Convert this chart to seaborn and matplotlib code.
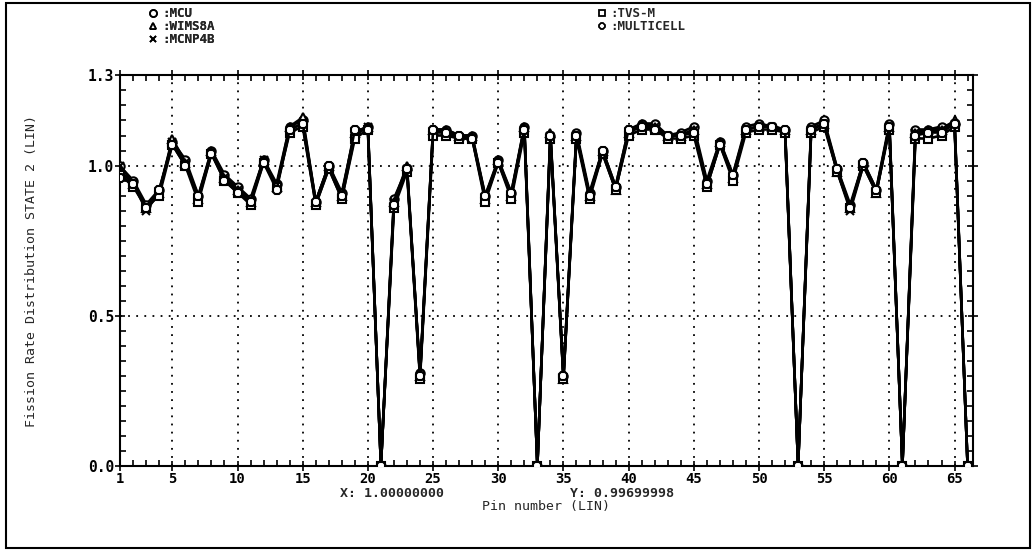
import numpy as np
import pandas as pd
import matplotlib
matplotlib.use('Agg')
import matplotlib.pyplot as plt
from matplotlib.lines import Line2D
from matplotlib.patches import Rectangle
from matplotlib.ticker import MultipleLocator, FixedLocator
import seaborn as sns

pins = list(range(1, 67))

# values, rows of 10 pins
mcu = [0.997, 0.95, 0.87, 0.92, 1.08, 1.02, 0.90, 1.05, 0.97, 0.93,
       0.89, 1.02, 0.94, 1.13, 1.15, 0.88, 1.00, 0.91, 1.11, 1.13,
       0.00, 0.89, 0.99, 0.31, 1.12, 1.12, 1.10, 1.10, 0.90, 1.02,
       0.91, 1.13, 0.00, 1.10, 0.30, 1.11, 0.91, 1.05, 0.93, 1.12,
       1.14, 1.14, 1.10, 1.11, 1.13, 0.95, 1.08, 0.97, 1.13, 1.14,
       1.13, 1.12, 0.00, 1.13, 1.15, 0.99, 0.87, 1.01, 0.92, 1.14,
       0.00, 1.12, 1.12, 1.13, 1.14, 0.00]
tvsm = [0.97, 0.93, 0.86, 0.90, 1.07, 1.00, 0.88, 1.04, 0.95, 0.91,
        0.87, 1.01, 0.93, 1.11, 1.13, 0.87, 0.99, 0.89, 1.09, 1.12,
        0.00, 0.86, 0.98, 0.29, 1.10, 1.10, 1.09, 1.09, 0.88, 1.01,
        0.89, 1.11, 0.00, 1.09, 0.29, 1.09, 0.89, 1.04, 0.92, 1.10,
        1.12, 1.12, 1.09, 1.09, 1.10, 0.93, 1.07, 0.95, 1.11, 1.12,
        1.12, 1.11, 0.00, 1.11, 1.13, 0.98, 0.86, 1.00, 0.91, 1.12,
        0.00, 1.09, 1.09, 1.10, 1.13, 0.00]
wims = [0.98, 0.94, 0.86, 0.91, 1.09, 1.01, 0.89, 1.05, 0.96, 0.92,
        0.88, 1.02, 0.93, 1.13, 1.16, 0.88, 1.00, 0.90, 1.11, 1.13,
        0.00, 0.88, 1.00, 0.30, 1.12, 1.12, 1.10, 1.10, 0.89, 1.02,
        0.90, 1.13, 0.00, 1.11, 0.29, 1.10, 0.90, 1.05, 0.92, 1.11,
        1.14, 1.13, 1.10, 1.10, 1.12, 0.94, 1.08, 0.96, 1.12, 1.13,
        1.13, 1.12, 0.00, 1.12, 1.14, 0.98, 0.86, 1.01, 0.91, 1.13,
        0.00, 1.11, 1.12, 1.12, 1.15, 0.00]
mcnp = [1.00, 0.94, 0.85, 0.91, 1.08, 1.01, 0.89, 1.04, 0.96, 0.92,
        0.88, 1.02, 0.93, 1.12, 1.14, 0.87, 0.99, 0.89, 1.10, 1.13,
        0.00, 0.88, 0.99, 0.30, 1.11, 1.11, 1.09, 1.09, 0.89, 1.01,
        0.90, 1.12, 0.00, 1.10, 0.29, 1.10, 0.90, 1.04, 0.92, 1.11,
        1.13, 1.13, 1.10, 1.10, 1.12, 0.93, 1.07, 0.96, 1.12, 1.13,
        1.13, 1.11, 0.00, 1.12, 1.14, 0.98, 0.85, 1.00, 0.91, 1.13,
        0.00, 1.11, 1.11, 1.12, 1.14, 0.00]
multicell = [0.96, 0.94, 0.86, 0.92, 1.07, 1.00, 0.90, 1.04, 0.95, 0.91,
             0.88, 1.01, 0.92, 1.12, 1.14, 0.88, 1.00, 0.90, 1.12, 1.12,
             0.00, 0.87, 0.99, 0.30, 1.12, 1.11, 1.10, 1.09, 0.90, 1.01,
             0.91, 1.12, 0.00, 1.10, 0.30, 1.10, 0.90, 1.05, 0.93, 1.12,
             1.13, 1.12, 1.10, 1.10, 1.11, 0.94, 1.07, 0.97, 1.12, 1.13,
             1.13, 1.12, 0.00, 1.12, 1.14, 0.99, 0.86, 1.01, 0.92, 1.13,
             0.00, 1.10, 1.11, 1.11, 1.14, 0.00]

series = [('MCU', mcu, 'o'), ('WIMS8A', wims, '^'), ('MCNP4B', mcnp, 'x'),
          ('TVS-M', tvsm, 's'), ('MULTICELL', multicell, '8')]

xticks = [1, 5, 10, 15, 20, 25, 30, 35, 40, 45, 50, 55, 60, 65]
yticks = [0.0, 0.5, 1.0, 1.3]
ytick_labels = ['0.0', '0.5', '1.0', '1.3']

sns.set_style('ticks')
plt.rcParams['font.family'] = ['DejaVu Sans Mono']
plt.rcParams['font.weight'] = 'bold'

fig = plt.figure(figsize=(10.36, 5.51), dpi=100)
ax = fig.add_axes([0.116, 0.155, 0.823, 0.708])

for name, vals, mk in series:
    df = pd.DataFrame({'pin': pins, 'val': vals})
    sns.lineplot(data=df, x='pin', y='val', ax=ax, color='black', linewidth=1.9,
                 marker=mk, markersize=6, markerfacecolor='white',
                 markeredgecolor='black', markeredgewidth=1.5, zorder=3)

ax.set_xlim(1, 66.4)
ax.set_ylim(0, 1.3)
ax.xaxis.set_major_locator(FixedLocator(xticks))
ax.xaxis.set_minor_locator(MultipleLocator(1))
ax.yaxis.set_major_locator(FixedLocator(yticks))
ax.yaxis.set_minor_locator(MultipleLocator(0.05))
ax.set_xticklabels([str(t) for t in xticks], fontsize=10)
ax.set_yticklabels(ytick_labels, fontsize=10.5)

for v in xticks[1:]:
    ax.axvline(v, color='black', linestyle=(0, (1, 3.5)), linewidth=1.3, zorder=1)
for v in [0.5, 1.0]:
    ax.axhline(v, color='black', linestyle=(0, (1, 3.5)), linewidth=1.3, zorder=1)

ax.tick_params(which='both', top=True, right=True, colors='black', width=1.2)
ax.tick_params(which='major', direction='inout', length=7, pad=1)
ax.tick_params(which='minor', direction='in', length=4)
for s in ax.spines.values():
    s.set_linewidth(1.5)
    s.set_color('black')

ax.set_xlabel('Pin number (LIN)', fontsize=9.5, labelpad=10)
ax.set_ylabel('Fission Rate Distribution STATE 2 (LIN)', fontsize=9.5, labelpad=36)
fig.text(0.378, 0.104, 'X: 1.00000000', fontsize=9.5, ha='center', va='center')
fig.text(0.600, 0.104, 'Y: 0.99699998', fontsize=9.5, ha='center', va='center')

def handle(mk):
    return Line2D([], [], linestyle='none', marker=mk, color='black',
                  markerfacecolor='white', markersize=5, markeredgewidth=1.3)

leg1 = fig.legend([handle(m) for _, _, m in series[:3]],
                  [':' + n for n, _, _ in series[:3]],
                  loc='upper left', bbox_to_anchor=(0.132, 1.005), frameon=False,
                  fontsize=9, handletextpad=0.2, labelspacing=0.0,
                  handlelength=1.0, borderpad=0.3)
fig.legend([handle(m) for _, _, m in series[3:]],
           [':' + n for n, _, _ in series[3:]],
           loc='upper left', bbox_to_anchor=(0.565, 1.005), frameon=False,
           fontsize=9, handletextpad=0.2, labelspacing=0.0,
           handlelength=1.0, borderpad=0.3)
fig.add_artist(leg1)

fig.add_artist(Rectangle((0.006, 0.006), 0.988, 0.988, transform=fig.transFigure,
                         fill=False, edgecolor='black', linewidth=1.5))

fig.savefig('out.png', dpi=100)
